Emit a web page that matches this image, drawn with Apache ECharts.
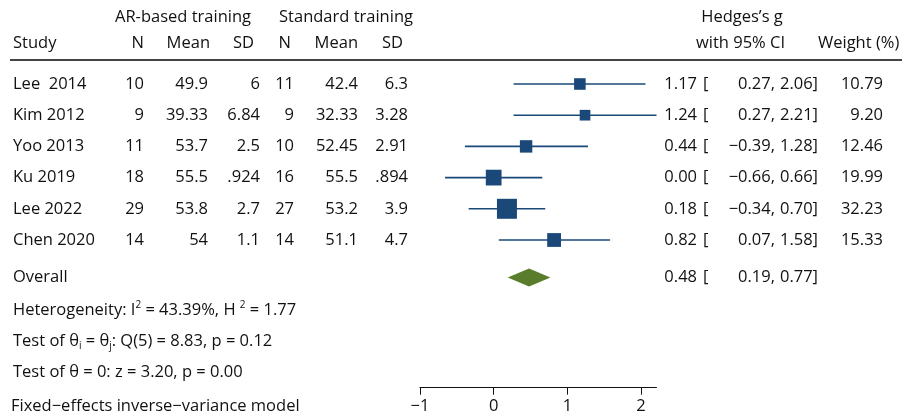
<!DOCTYPE html>
<html><head><meta charset="utf-8">
<script src="https://cdn.jsdelivr.net/npm/echarts@6/dist/echarts.min.js"></script>
<style>html,body{margin:0;padding:0;background:#fff}#c{width:902px;height:419px}</style>
</head><body><div id="c"></div>
<script>
// ---- data ----
var studies = ["Lee  2014", "Kim 2012", "Yoo 2013", "Ku 2019", "Lee 2022", "Chen 2020"];
var arN    = [10, 9, 11, 18, 29, 14];
var arMean = [49.9, 39.33, 53.7, 55.5, 53.8, 54];
var arSD   = [6, 6.84, 2.5, 0.924, 2.7, 1.1];
var stN    = [11, 9, 10, 16, 27, 14];
var stMean = [42.4, 32.33, 52.45, 55.5, 53.2, 51.1];
var stSD   = [6.3, 3.28, 2.91, 0.894, 3.9, 4.7];
var g      = [1.17, 1.24, 0.44, 0.00, 0.18, 0.82];
var ciLow  = [0.27, 0.27, -0.39, -0.66, -0.34, 0.07];
var ciHigh = [2.06, 2.21, 1.28, 0.66, 0.70, 1.58];
var weight = [10.79, 9.20, 12.46, 19.99, 32.23, 15.33];
var overall = {g: 0.48, lo: 0.19, hi: 0.77};
var xTicks = [-1, 0, 1, 2];

// ---- layout ----
var FONT = '"Open Sans", sans-serif';
var FS = 16.5;
var INK = '#111';
var NAVY = '#1a4878';
var GREEN = '#5a7d2b';
var ROW0 = 84, ROWH = 31.2;
var overallRow = 6.2;
function rowY(r) { return ROW0 + ROWH * r; }
function fmtNum(v) { return String(v).replace(/^0\./, '.'); }
function fmtG(v) { var s = v.toFixed(2); return s.charAt(0) === '-' ? '\u2212' + s.slice(1) : s; }

var chart = echarts.init(document.getElementById('c'), null, {renderer: 'canvas'});

var graphics = [];
function txt(x, y, s, align) {
  graphics.push({type: 'text', z: 10, style: {text: s, x: x, y: y, align: align || 'left',
    verticalAlign: 'middle', font: FS + 'px ' + FONT, fill: INK}});
}
// headers
txt(183, 17, 'AR-based training', 'center');
txt(346, 17, 'Standard training', 'center');
txt(742, 17, 'Hedges\u2019s g', 'center');
txt(13, 43, 'Study');
txt(144, 43, 'N', 'right');
txt(210, 43, 'Mean', 'right');
txt(254, 43, 'SD', 'right');
txt(291, 43, 'N', 'right');
txt(358, 43, 'Mean', 'right');
txt(403, 43, 'SD', 'right');
txt(785, 43, 'with 95% CI', 'right');
txt(818, 43, 'Weight (%)');
graphics.push({type: 'line', shape: {x1: 10, y1: 60, x2: 902, y2: 60},
  style: {stroke: '#444', lineWidth: 2}, z: 10});

// table rows
for (var i = 0; i < studies.length; i++) {
  var y = rowY(i);
  txt(13, y, studies[i]);
  txt(144, y, String(arN[i]), 'right');
  txt(208, y, fmtNum(arMean[i]), 'right');
  txt(260, y, fmtNum(arSD[i]), 'right');
  txt(294, y, String(stN[i]), 'right');
  txt(358, y, fmtNum(stMean[i]), 'right');
  txt(408, y, fmtNum(stSD[i]), 'right');
  txt(697, y, fmtG(g[i]), 'right');
  txt(703, y, '[');
  txt(775, y, fmtG(ciLow[i]) + ',', 'right');
  txt(818, y, fmtG(ciHigh[i]) + ']', 'right');
  txt(883, y, weight[i].toFixed(2), 'right');
}
var oy = rowY(overallRow);
txt(13, oy, 'Overall');
txt(697, oy, fmtG(overall.g), 'right');
txt(703, oy, '[');
txt(775, oy, fmtG(overall.lo) + ',', 'right');
txt(818, oy, fmtG(overall.hi) + ']', 'right');

// footer
var rich = {
  n: {font: FS + 'px ' + FONT, fill: INK, lineHeight: 20},
  sup: {font: '10px ' + FONT, fill: INK, lineHeight: 20, verticalAlign: 'top'},
  sub: {font: '10px ' + FONT, fill: INK, lineHeight: 20, verticalAlign: 'bottom'}
};
function richTxt(x, y, s) {
  graphics.push({type: 'text', z: 10, style: {text: s, x: x, y: y, verticalAlign: 'middle',
    align: 'left', font: FS + 'px ' + FONT, fill: INK, rich: rich}});
}
richTxt(13, 310, '{n|Heterogeneity: I}{sup|2}{n| = 43.39%, H }{sup|2}{n| = 1.77}');
richTxt(13, 341, '{n|Test of \u03b8}{sub|i}{n| = \u03b8}{sub|j}{n|: Q(5) = 8.83, p = 0.12}');
txt(13, 372, 'Test of \u03b8 = 0: z = 3.20, p = 0.00');
txt(11, 406, 'Fixed\u2212effects inverse\u2212variance model');

// ---- series data ----
var sqData = g.map(function (v, i) { return [v, i, weight[i]]; });
var ciData = g.map(function (v, i) { return [ciLow[i], ciHigh[i], i]; });

var option = {
  animation: false,
  grid: {left: 420, right: 245.5, top: ROW0 - ROWH, bottom: 31.3, containLabel: false},
  xAxis: {
    type: 'value', min: -1, max: 2.21, interval: 1,
    axisLine: {show: true, onZero: false, lineStyle: {color: INK, width: 1}},
    axisTick: {show: true, length: 7, lineStyle: {color: INK}, customValues: xTicks},
    axisLabel: {color: INK, fontSize: FS, fontFamily: FONT, margin: 10,
      customValues: xTicks,
      formatter: function (v) { return v < 0 ? '\u2212' + Math.abs(v) : String(v); }},
    splitLine: {show: false}
  },
  yAxis: {type: 'value', inverse: true, min: -1, max: 9.734, show: false},
  series: [
    {
      type: 'custom', z: 2, data: ciData,
      renderItem: function (params, api) {
        var a = api.coord([api.value(0), api.value(2)]);
        var b = api.coord([api.value(1), api.value(2)]);
        return {type: 'line', shape: {x1: a[0], y1: a[1], x2: b[0], y2: b[1]},
          style: {stroke: NAVY, lineWidth: 1.6}};
      }
    },
    {
      type: 'scatter', z: 3, symbol: 'rect', data: sqData,
      symbolSize: function (d) { return 3.52 * Math.sqrt(d[2]); },
      itemStyle: {color: NAVY, opacity: 1}
    },
    {
      type: 'custom', z: 3, data: [[overall.lo, overall.g, overall.hi]],
      renderItem: function (params, api) {
        var l = api.coord([api.value(0), overallRow]);
        var c = api.coord([api.value(1), overallRow]);
        var r = api.coord([api.value(2), overallRow]);
        var h = 9;
        return {type: 'polygon', shape: {points: [[l[0], l[1]], [c[0], c[1] - h], [r[0], r[1]], [c[0], c[1] + h]]},
          style: {fill: GREEN}};
      }
    }
  ],
  graphic: graphics
};
chart.setOption(option);
</script>
</body></html>
